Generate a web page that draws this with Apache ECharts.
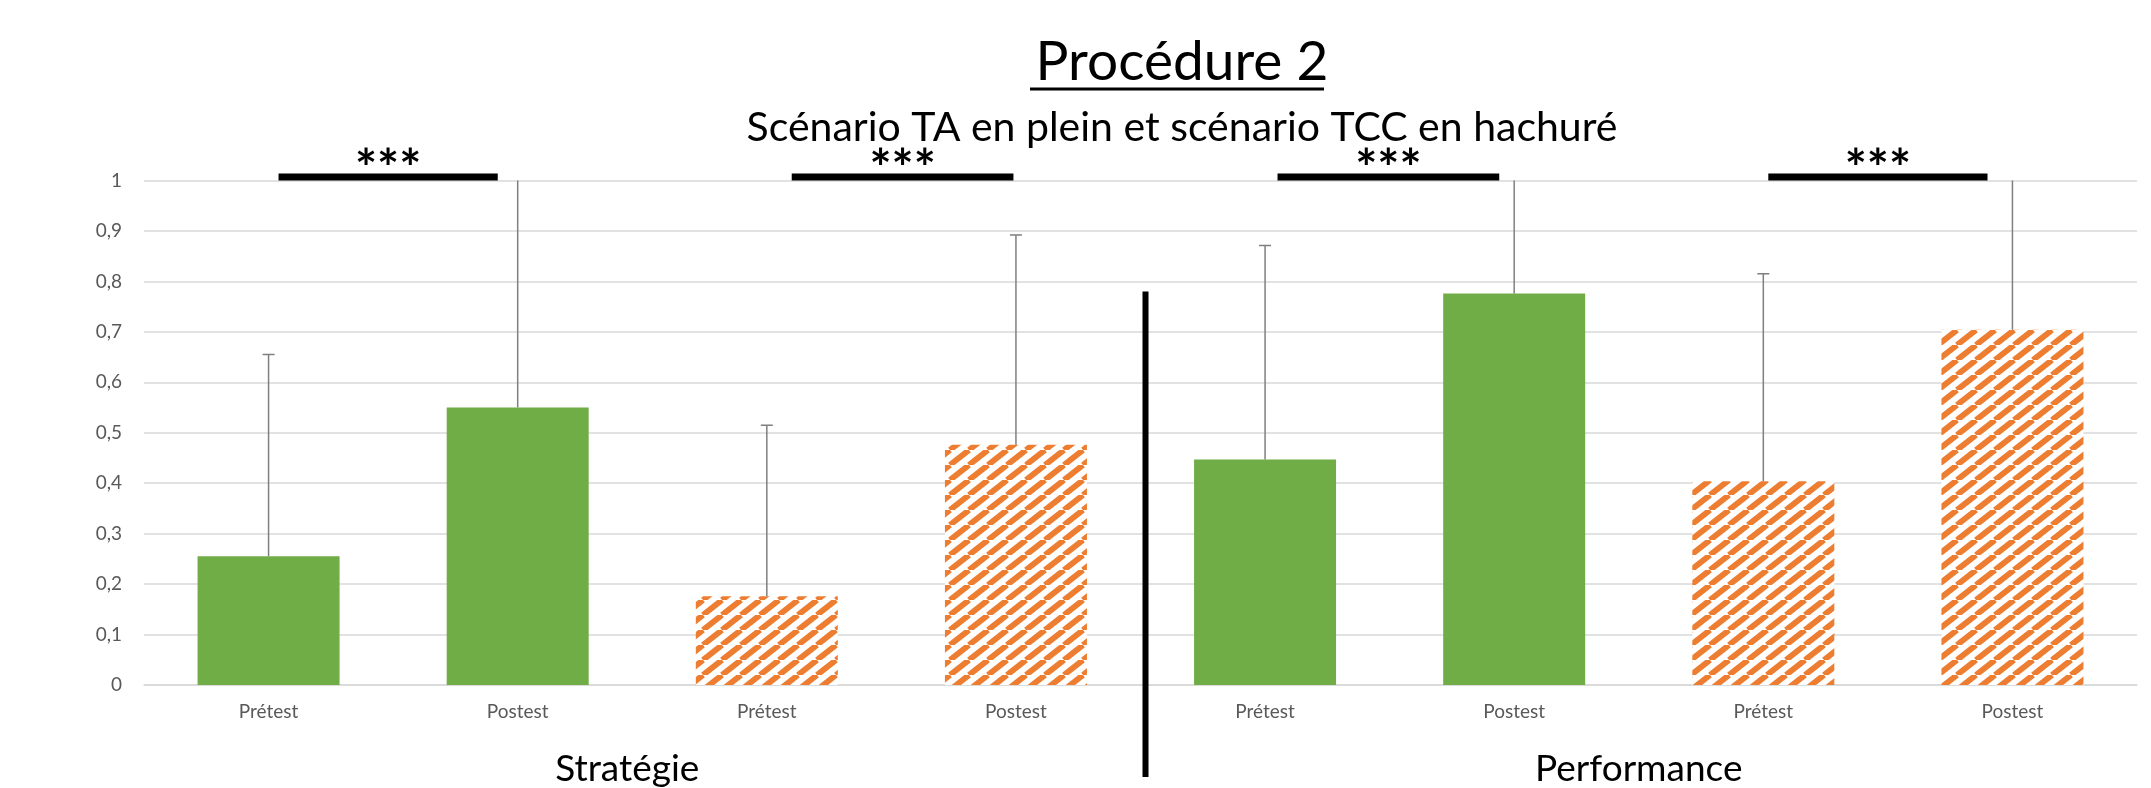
<!DOCTYPE html>
<html>
<head>
<meta charset="utf-8">
<script src="https://cdn.jsdelivr.net/npm/echarts@6/dist/echarts.min.js"></script>
<style>
  html, body { margin: 0; padding: 0; background: #fff; }
  #chart { width: 2151px; height: 788px; }
</style>
</head>
<body>
<div id="chart"></div>
<script>
// données
var categories = ['Prétest', 'Postest', 'Prétest', 'Postest', 'Prétest', 'Postest', 'Prétest', 'Postest'];
var groups = ['Stratégie', 'Performance'];
var means = [0.255, 0.55, 0.176, 0.476, 0.447, 0.776, 0.404, 0.704];
var upper = [0.655, 1.05, 0.515, 0.892, 0.871, 1.1, 0.815, 1.05]; // moyenne + écart-type
var hatched = [false, false, true, true, false, false, true, true];
// traits de significativité : début / fin en position de catégorie
var sigPairs = [[0.04, 0.92], [2.1, 2.99], [4.05, 4.94], [6.02, 6.9]];
var sigLevel = 1;
var sigLabel = '***';
var separator = [[3, 0.78]]; // après la 4e catégorie

var GREEN = '#70AD47';
var ORANGE = '#ED7D31';
var FONT = 'Lato';

// motif hachuré (diagonales montantes)
function makeHatch() {
    var w = 19, h = 15;
    var c = document.createElement('canvas');
    c.width = w; c.height = h;
    var ctx = c.getContext('2d');
    ctx.fillStyle = '#fff';
    ctx.fillRect(0, 0, w, h);
    ctx.strokeStyle = ORANGE;
    ctx.lineWidth = 5.8;
    for (var k = -1; k <= 1; k++) {
        ctx.beginPath();
        ctx.moveTo(k * w, h);
        ctx.lineTo(k * w + w, 0);
        ctx.stroke();
    }
    return c;
}
var hatch = makeHatch();

var barData = means.map(function (v, i) {
    return {
        value: v,
        itemStyle: { color: hatched[i] ? { image: hatch, repeat: 'repeat' } : GREEN }
    };
});
var errData = means.map(function (v, i) { return [i, v, upper[i]]; });

// position x d'une catégorie fractionnaire
function catX(api, pos) {
    var i = Math.floor(pos);
    var band = api.size([1, 0])[0];
    return api.coord([i, sigLevel])[0] + (pos - i) * band;
}

var myChart = echarts.init(document.getElementById('chart'));
myChart.setOption({
    animation: false,
    title: [{
        text: 'Procédure 2',
        left: 1177,
        textAlign: 'center',
        top: 30,
        textStyle: { fontFamily: FONT, fontSize: 55, fontWeight: 'normal', color: '#000' }
    }, {
        text: 'Scénario TA en plein et scénario TCC en hachuré',
        left: 1177,
        textAlign: 'center',
        top: 102,
        textStyle: { fontFamily: FONT, fontSize: 41, fontWeight: 'normal', color: '#000' }
    }],
    graphic: [{
        type: 'line',
        shape: { x1: 1030, y1: 89, x2: 1324, y2: 89 },
        style: { stroke: '#000', lineWidth: 3 }
    }],
    grid: { left: 144, right: 14, top: 180.5, bottom: 100.5 },
    xAxis: [{
        type: 'category',
        data: categories,
        axisLine: { lineStyle: { color: '#D9D9D9', width: 1.5 } },
        axisTick: { show: false },
        axisLabel: { fontFamily: FONT, fontSize: 19, color: '#595959', margin: 17 }
    }, {
        type: 'category',
        data: [
            { value: groups[0], textStyle: { padding: [0, 30, 0, 0] } },
            groups[1]
        ],
        position: 'bottom',
        axisLine: { show: false },
        axisTick: { show: false },
        axisLabel: { fontFamily: FONT, fontSize: 37, color: '#000', margin: 66 }
    }],
    yAxis: {
        type: 'value',
        min: 0,
        max: 1,
        interval: 0.1,
        axisLine: { show: false },
        axisTick: { show: false },
        splitLine: { lineStyle: { color: '#D9D9D9', width: 1.5 } },
        axisLabel: {
            fontFamily: FONT, fontSize: 19, color: '#595959', margin: 22,
            formatter: function (v) {
                return (Math.round(v * 10) / 10).toString().replace('.', ',');
            }
        }
    },
    series: [{
        type: 'bar',
        data: barData,
        barWidth: '57%',
        z: 2
    }, {
        // barres d'erreur (vers le haut seulement)
        type: 'custom',
        data: errData,
        encode: { x: 0, y: [1, 2] },
        clip: true,
        z: 3,
        renderItem: function (params, api) {
            var base = api.coord([api.value(0), api.value(1)]);
            var top = api.coord([api.value(0), api.value(2)]);
            var st = { stroke: '#7F7F7F', lineWidth: 1.5 };
            return {
                type: 'group',
                children: [
                    { type: 'line', shape: { x1: base[0], y1: base[1], x2: top[0], y2: top[1] }, style: st },
                    { type: 'line', shape: { x1: top[0] - 6, y1: top[1], x2: top[0] + 6, y2: top[1] }, style: st }
                ]
            };
        }
    }, {
        // significativité
        type: 'custom',
        data: sigPairs,
        dimensions: ['from', 'to'],
        encode: { x: [] },
        clip: false,
        z: 4,
        renderItem: function (params, api) {
            var x1 = catX(api, api.value(0));
            var x2 = catX(api, api.value(1));
            var y = api.coord([0, sigLevel])[1] - 3.5;
            return {
                type: 'group',
                children: [
                    { type: 'line', shape: { x1: x1, y1: y, x2: x2, y2: y }, style: { stroke: '#000', lineWidth: 7 } },
                    {
                        type: 'text',
                        style: {
                            x: (x1 + x2) / 2, y: y + 19, text: sigLabel,
                            fontFamily: FONT, fontSize: 52, fontWeight: 'bold', fill: '#000',
                            align: 'center', verticalAlign: 'bottom'
                        }
                    }
                ]
            };
        }
    }, {
        // séparateur vertical entre les deux blocs
        type: 'custom',
        data: separator,
        encode: { x: 0, y: 1 },
        clip: false,
        z: 4,
        renderItem: function (params, api) {
            var band = api.size([1, 0])[0];
            var top = api.coord([api.value(0), api.value(1)]);
            var zero = api.coord([api.value(0), 0]);
            var x = top[0] + band / 2 + 5;
            return {
                type: 'line',
                shape: { x1: x, y1: top[1], x2: x, y2: zero[1] + 92 },
                style: { stroke: '#000', lineWidth: 6 }
            };
        }
    }]
});
</script>
</body>
</html>
